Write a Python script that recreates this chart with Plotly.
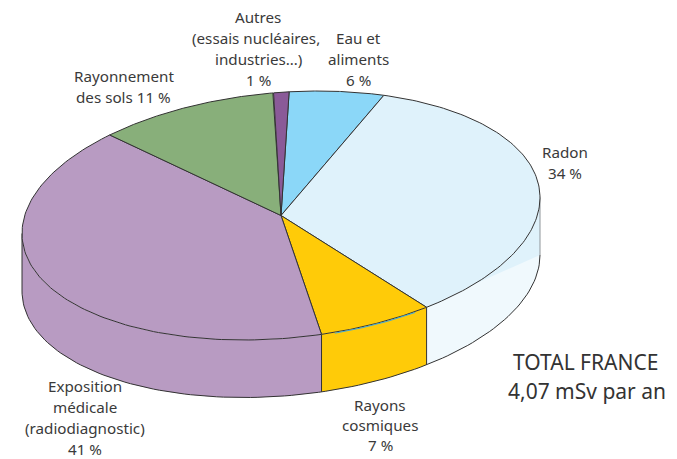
import numpy as np
import plotly.graph_objects as go

# ---- data ----
categories = ["Eau et aliments", "Radon", "Rayons cosmiques",
              "Exposition médicale (radiodiagnostic)", "Rayonnement des sols", "Autres"]
shares = [6, 34, 7, 41, 11, 1]
colors = ["#8BD7F8", "#DFF2FB", "#FFCB08", "#B89BC2", "#88AF7A", "#8A5A98"]
side_colors = ["#8BD7F8", "#F0F9FD", "#FFCB08", "#B89BC2", "#88AF7A", "#8A5A98"]

# label lines: (text, x, y)
label_lines = [
    ("Autres", 258, 17), ("(essais nucléaires,", 256, 38), ("industries…)", 258, 59), ("1 %", 258, 80),
    ("Eau et", 358, 38), ("aliments", 358, 59), ("6 %", 358, 80),
    ("Rayonnement", 123.5, 76), ("des sols 11 %", 123.5, 97),
    ("Radon", 565, 152), ("34 %", 565, 173),
    ("Exposition", 85, 386), ("médicale", 85, 407), ("(radiodiagnostic)", 85, 428), ("41 %", 85, 449),
    ("Rayons", 380, 405), ("cosmiques", 380, 425), ("7 %", 380, 445),
]
total_lines = [("TOTAL FRANCE", 585.5, 362), ("4,07 mSv par an", 587, 391)]

# ---- projection of the tilted disc, in picture units ----
CX, CY, RX, RY, TILT, DEPTH, START = 281, 215.5, 259, 124.5, 8.3, 57.5, 1.8
INK = "#333333"


def rim(phi, drop=0.0):
    p = np.radians(phi)
    return CX + RX * np.sin(p), CY - RY * np.cos(p - np.radians(TILT)) + drop


def arc(a, b, n=120):
    return np.linspace(a, b, n)


fig = go.Figure()


def poly(x, y, fill=None, line=None, width=1.0):
    fig.add_trace(go.Scatter(
        x=list(x), y=list(y), mode="lines" if line else "none",
        fill="toself" if fill else None, fillcolor=fill,
        line=dict(color=line, width=width) if line else None,
        hoverinfo="skip", showlegend=False))


edges = START + np.cumsum([0] + shares) * 3.6

# side wall
for i in range(len(shares)):
    a, b = max(edges[i], 90), min(edges[i + 1], 270)
    if a >= b:
        continue
    t = arc(a, b)
    x, y = rim(t)
    xb, yb = rim(t[::-1], DEPTH)
    poly(np.r_[x, xb], np.r_[y, yb], fill=side_colors[i])

# reflection on the radon wall
t = arc(90, 132)
x, y = rim(t)
xb, yb = rim(90, DEPTH)
poly(np.r_[x, xb], np.r_[y, yb], fill=colors[1])

# side wall outlines
x, y = rim(arc(90, 270), DEPTH)
poly(x, y, line=INK)
for phi in [edges[2], edges[3], 270]:
    x0, y0 = rim(phi)
    poly([x0, x0], [y0, y0 + DEPTH], line=INK)
x0, y0 = rim(90)
poly([x0, x0], [y0, y0 + DEPTH], line="#8f9599")

# top face
for i, c in enumerate(colors):
    x, y = rim(arc(edges[i], edges[i + 1]))
    poly(np.r_[CX, x, CX], np.r_[CY, y, CY], fill=c, line=INK)

# thin blue stroke along the cosmic-ray slice edge
x, y = rim(arc(edges[2] + 3, edges[3] - 3), 0.9)
poly(x, y, line="#3DA9DC", width=1)

annotations = [dict(x=tx, y=ty, text=s, showarrow=False, xanchor="center", yanchor="middle",
                    font=dict(family="Noto Sans", size=15.2, color="#3a3a3a"))
               for s, tx, ty in label_lines]
annotations += [dict(x=tx, y=ty, text=s, showarrow=False, xanchor="center", yanchor="middle",
                     font=dict(family="Noto Sans", size=21, color="#333333"))
                for s, tx, ty in total_lines]

fig.update_layout(
    width=677, height=459, margin=dict(l=0, r=0, t=0, b=0),
    paper_bgcolor="white", plot_bgcolor="white", showlegend=False,
    xaxis=dict(range=[0, 677], visible=False, fixedrange=True),
    yaxis=dict(range=[459, 0], visible=False, fixedrange=True),
    annotations=annotations,
)
fig.write_html("out.html", config=dict(displayModeBar=False),
               post_script="document.body.style.margin='0';document.documentElement.style.overflow='hidden';")
